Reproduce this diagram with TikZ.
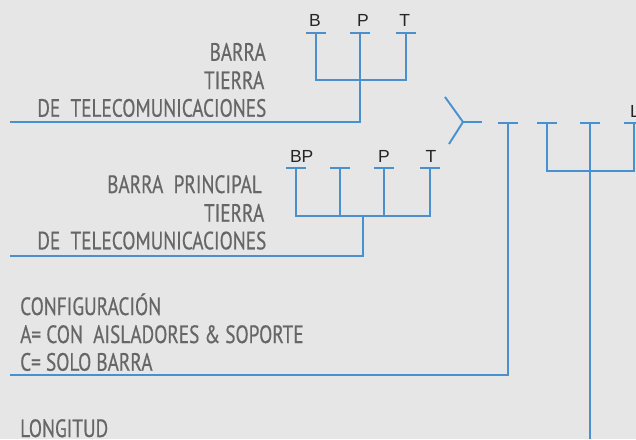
\documentclass[tikz,border=0pt]{standalone}
\usepackage{fontspec}
\setmainfont{Liberation Sans}
\newfontfamily\condfont[FakeStretch=0.77,FakeBold=0.5]{PT Sans}
\definecolor{wire}{HTML}{4A8FCE}
\definecolor{paper}{HTML}{E6E6E6}
\definecolor{inkgray}{HTML}{666666}
\begin{document}
\begin{tikzpicture}[x=1pt,y=-1pt,
  wire/.style={draw=wire,line width=1.9pt},
  letter/.style={font=\fontsize{17.5}{17.5}\selectfont,text=black!85,inner sep=0pt,anchor=base},
  desc/.style={font=\condfont\fontsize{25}{25}\selectfont,text=inkgray,inner sep=0pt,anchor=base east},
  descl/.style={font=\condfont\fontsize{25}{25}\selectfont,text=inkgray,inner sep=0pt,anchor=base west}]
\def\w{10}
\useasboundingbox (0,0) rectangle (636,439);
\clip (0,0) rectangle (636,439);
\fill[paper] (0,0) rectangle (636,439);

% first group
\coordinate (B1) at (316,33);
\coordinate (P1) at (360,33);
\coordinate (T1) at (406,33);
\coordinate (J1) at (360,80);
\coordinate (E1) at (10,122);
% second group
\coordinate (B2) at (296,168);
\coordinate (X2) at (340,168);
\coordinate (P2) at (384,168);
\coordinate (T2) at (430,168);
\coordinate (J2) at (363,216);
\coordinate (E2) at (10,256);
% configuration
\coordinate (C3) at (508,123);
\coordinate (E3) at (10,375);
% length
\coordinate (A4) at (547,123);
\coordinate (M4) at (590,123);
\coordinate (L4) at (634,123);
\coordinate (J4) at (590,171);
\coordinate (E4) at (590,439);
% fork
\coordinate (F) at (463,122);
\coordinate (Fa) at (445,97);
\coordinate (Fb) at (449,144);
\coordinate (Fc) at (482,122);

\foreach \p in {B1,P1,T1,B2,X2,P2,T2,C3,A4,M4,L4}
  \draw[wire] ([xshift=-\w pt]\p) -- ([xshift=\w pt]\p);

\draw[wire] (B1) |- (J1) -| (T1);
\draw[wire] (P1) -- (J1);
\draw[wire] (J1) |- (E1);

\draw[wire] (B2) |- (J2) -| (T2);
\draw[wire] (X2) -- (X2 |- J2);
\draw[wire] (P2) -- (P2 |- J2);
\draw[wire] (J2) |- (E2);

\draw[wire] (C3) |- (E3);

\draw[wire] (A4) |- (J4) -| (L4);
\draw[wire] (M4) -- (E4);

\draw[wire] (Fa) -- (F) -- (Fb);
\draw[wire] (F) -- (Fc);

\node[letter] (lB1) at (315,26) {B};
\node[letter] (lP1) at (363,26) {P};
\node[letter] (lT1) at (404.7,26) {T};
\node[letter] (lB2) at (301.7,162) {BP};
\node[letter] (lP2) at (384,162) {P};
\node[letter] (lT2) at (431,162) {T};
\node[letter,anchor=base west] (lL4) at (630,117) {L};

\node[desc] (d1a) at (266,60.7) {BARRA};
\node[desc] (d1b) at (264.5,89) {TIERRA};
\node[desc] (d1c) at (266.5,116.7) {DE\ \ TELECOMUNICACIONES};
\node[desc] (d2a) at (262,193) {BARRA\ \ PRINCIPAL};
\node[desc] (d2b) at (264.5,221.7) {TIERRA};
\node[desc] (d2c) at (266.5,249.3) {DE\ \ TELECOMUNICACIONES};
\node[descl] (d3a) at (20,315) {CONFIGURACIÓN};
\node[descl] (d3b) at (20,343) {A= CON\ \ AISLADORES \& SOPORTE};
\node[descl] (d3c) at (20,370.7) {C= SOLO BARRA};
\node[descl] (d4a) at (20,437) {LONGITUD};
\end{tikzpicture}
\end{document}
